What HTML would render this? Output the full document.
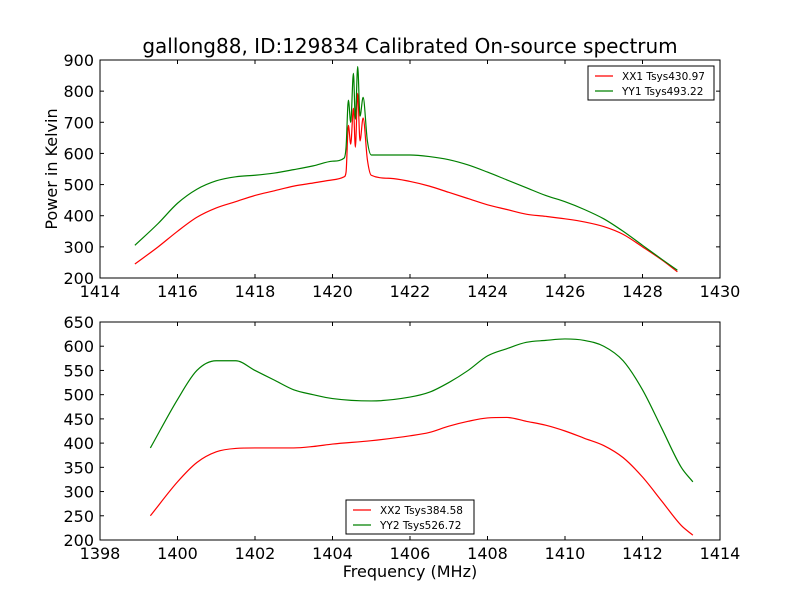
<!DOCTYPE html>
<html><head><meta charset="utf-8"><style>
body{margin:0;background:#fff;}
svg{display:block;font-family:"DejaVu Sans","Liberation Sans",sans-serif;}
</style></head><body>
<svg id="chart" width="800" height="600"></svg>
<script>
const topFreq=[1414.9,1415.5,1416,1416.5,1417,1417.5,1418,1418.5,1419,1419.5,1420,1420.3,1420.35,1420.41,1420.47,1420.54,1420.59,1420.65,1420.71,1420.79,1420.9,1421,1421.5,1422,1422.5,1423,1423.5,1424,1424.5,1425,1425.5,1426,1426.5,1427,1427.5,1428,1428.5,1428.9];
const xx1=[245,300,350,395,425,445,465,480,495,505,515,525,540,690,630,745,620,793,640,714,580,530,520,510,495,475,455,435,420,405,398,390,380,365,340,300,258,220];
const yy1=[305,375,440,485,512,525,530,537,548,560,575,585,620,771,700,857,710,879,720,780,640,595,595,595,590,580,563,540,515,490,465,445,420,390,350,305,260,225];
const botFreq=[1399.3,1400,1400.5,1401,1401.5,1402,1402.5,1403,1403.5,1404,1405,1406,1406.5,1407,1407.5,1408,1408.5,1409,1409.5,1410,1410.5,1411,1411.5,1412,1412.5,1413,1413.3];
const xx2=[250,320,360,382,389,390,390,390,393,398,405,415,422,435,445,452,453,445,437,425,410,395,370,330,280,230,210];
const yy2=[390,490,550,570,570,550,530,510,500,492,487,495,505,525,550,580,595,608,612,615,612,600,570,510,430,350,320];
const topXTicks=[1414,1416,1418,1420,1422,1424,1426,1428,1430];
const topYTicks=[200,300,400,500,600,700,800,900];
const botXTicks=[1398,1400,1402,1404,1406,1408,1410,1412,1414];
const botYTicks=[200,250,300,350,400,450,500,550,600,650];

const NS="http://www.w3.org/2000/svg";
const svg=document.getElementById('chart');
function mk(t,a,p){const e=document.createElementNS(NS,t);for(const k in a)e.setAttribute(k,a[k]);(p||svg).appendChild(e);return e;}

function monotonePath(xs,ys){
  const n=xs.length,d=[],m=new Array(n);
  for(let i=0;i<n-1;i++)d.push((ys[i+1]-ys[i])/(xs[i+1]-xs[i]));
  m[0]=d[0];m[n-1]=d[n-2];
  for(let i=1;i<n-1;i++){m[i]=(d[i-1]*d[i]<=0)?0:(d[i-1]+d[i])/2;}
  for(let i=0;i<n-1;i++){
    if(d[i]===0){m[i]=0;m[i+1]=0;continue;}
    const a=m[i]/d[i],b=m[i+1]/d[i],s=a*a+b*b;
    if(s>9){const t=3/Math.sqrt(s);m[i]=t*a*d[i];m[i+1]=t*b*d[i];}
  }
  let p='M'+xs[0].toFixed(2)+','+ys[0].toFixed(2);
  for(let i=0;i<n-1;i++){const h=(xs[i+1]-xs[i])/3;
    p+='C'+(xs[i]+h).toFixed(2)+','+(ys[i]+m[i]*h).toFixed(2)+' '+(xs[i+1]-h).toFixed(2)+','+(ys[i+1]-m[i+1]*h).toFixed(2)+' '+xs[i+1].toFixed(2)+','+ys[i+1].toFixed(2);}
  return p;
}

function panel(name,x0,x1,y0,y1,xmin,xmax,ymin,ymax,xt,yt,series,legend){
  const g=mk('g',{});
  
  
  const sx=v=>x0+(v-xmin)/(xmax-xmin)*(x1-x0);
  const sy=v=>y1-(v-ymin)/(ymax-ymin)*(y1-y0);
  series.forEach(s=>{
    const d=monotonePath(s.f.map(sx),s.v.map(sy));
    const p=mk('path',{d:d,fill:'none',stroke:s.c,'stroke-width':1.2},g);
    
    
  });
  const fr=mk('rect',{x:x0,y:y0,width:x1-x0,height:y1-y0,fill:'none',stroke:'#000','stroke-width':1},g);
  
  
  xt.forEach(v=>{const X=sx(v);
    mk('line',{x1:X,x2:X,y1:y1,y2:y1-4,stroke:'#000'},g);
    mk('line',{x1:X,x2:X,y1:y0,y2:y0+4,stroke:'#000'},g);
    const t=mk('text',{x:X,y:y1+19,'text-anchor':'middle','font-size':16},g);t.textContent=v;
    
    
  });
  yt.forEach(v=>{const Y=sy(v);
    mk('line',{x1:x0,x2:x0+4,y1:Y,y2:Y,stroke:'#000'},g);
    mk('line',{x1:x1,x2:x1-4,y1:Y,y2:Y,stroke:'#000'},g);
    const t=mk('text',{x:x0-6,y:Y+6,'text-anchor':'end','font-size':16},g);t.textContent=v;
    
    
  });
  const L=legend;
  const lg=mk('g',{},g);
  
  
  mk('rect',{x:L.x,y:L.y,width:L.w,height:34,fill:'#fff',stroke:'#000'},lg);
  series.forEach((s,i)=>{const yy=L.y+10+i*15;
    mk('line',{x1:L.x+7,x2:L.x+25,y1:yy,y2:yy,stroke:s.c,'stroke-width':1.2},lg);
    const t=mk('text',{x:L.x+34,y:yy+4,'font-size':10.5},lg);t.textContent=s.label;
    
    
  });
}
panel('top-panel',100,720,60,278,1414,1430,200,900,topXTicks,topYTicks,
 [{f:topFreq,v:xx1,c:'#ff0000',label:'XX1 Tsys430.97',name:'xx1-line'},{f:topFreq,v:yy1,c:'#008000',label:'YY1 Tsys493.22',name:'yy1-line'}],
 {x:588,y:66,w:126});
panel('bottom-panel',100,720,322,540,1398,1414,200,650,botXTicks,botYTicks,
 [{f:botFreq,v:xx2,c:'#ff0000',label:'XX2 Tsys384.58',name:'xx2-line'},{f:botFreq,v:yy2,c:'#008000',label:'YY2 Tsys526.72',name:'yy2-line'}],
 {x:346,y:500,w:128});
let t=mk('text',{x:410,y:53,'text-anchor':'middle','font-size':20});t.textContent='gallong88, ID:129834 Calibrated On-source spectrum';


t=mk('text',{x:410,y:577,'text-anchor':'middle','font-size':16});t.textContent='Frequency (MHz)';


t=mk('text',{x:57,y:169,'text-anchor':'middle','font-size':16,transform:'rotate(-90 57 169)'});t.textContent='Power in Kelvin';


</script>
</body></html>
